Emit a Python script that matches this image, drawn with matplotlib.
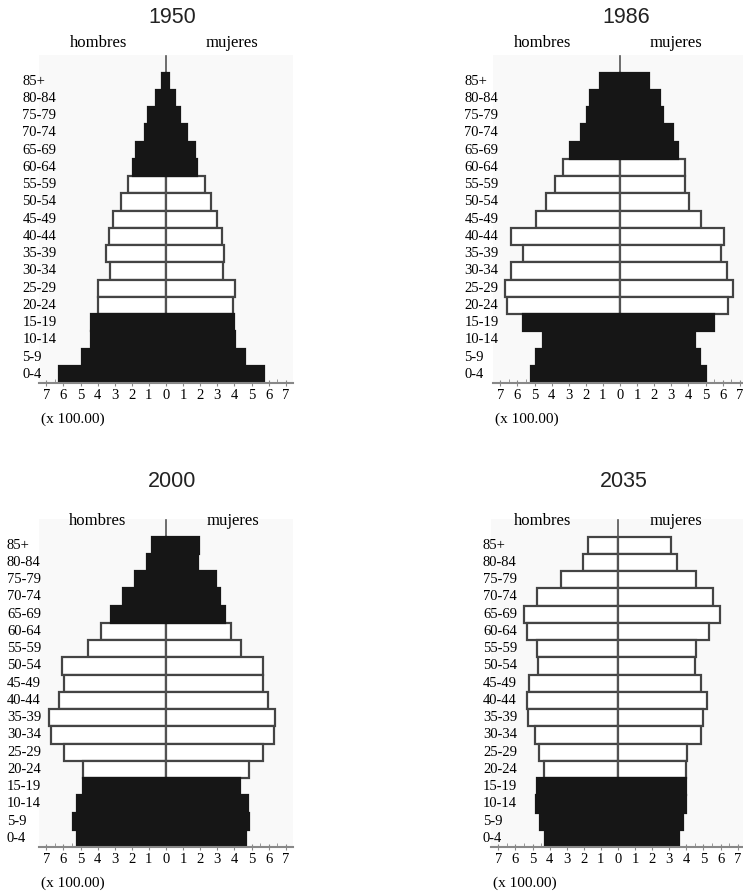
import numpy as np
import matplotlib
matplotlib.use("Agg")
import matplotlib.pyplot as plt

# age groups, listed from the top of the pyramid down
ages = ["85+", "80-84", "75-79", "70-74", "65-69", "60-64", "55-59", "50-54", "45-49",
        "40-44", "35-39", "30-34", "25-29", "20-24", "15-19", "10-14", "5-9", "0-4"]

years = ["1950", "1986", "2000", "2035"]

# population (x 100.00), same order as ages
men_1950 = [0.23, 0.6, 1.05, 1.2, 1.75, 1.95, 2.2, 2.65, 3.1, 3.35, 3.5, 3.3, 4.0, 4.0, 4.4, 4.4, 4.9, 6.25]
women_1950 = [0.2, 0.5, 0.8, 1.2, 1.7, 1.8, 2.3, 2.65, 3.0, 3.3, 3.4, 3.35, 4.05, 3.9, 3.95, 4.05, 4.6, 5.75]

men_1986 = [1.17, 1.76, 1.95, 2.3, 2.93, 3.32, 3.8, 4.3, 4.9, 6.35, 5.7, 6.35, 6.7, 6.58, 5.66, 4.53, 4.9, 5.18]
women_1986 = [1.72, 2.34, 2.54, 3.1, 3.38, 3.8, 3.8, 4.06, 4.73, 6.1, 5.9, 6.25, 6.6, 6.3, 5.47, 4.4, 4.7, 5.0]

men_2000 = [0.82, 1.1, 1.84, 2.54, 3.2, 3.8, 4.54, 6.1, 5.95, 6.24, 6.87, 6.75, 5.95, 4.83, 4.83, 5.22, 5.46, 5.19]
women_2000 = [1.92, 1.86, 2.9, 3.15, 3.44, 3.78, 4.4, 5.67, 5.67, 5.97, 6.38, 6.32, 5.67, 4.85, 4.3, 4.8, 4.85, 4.66]

men_2035 = [1.76, 2.06, 3.33, 4.76, 5.5, 5.35, 4.75, 4.69, 5.2, 5.33, 5.24, 4.84, 4.6, 4.3, 4.75, 4.78, 4.55, 4.25]
women_2035 = [3.1, 3.47, 4.57, 5.55, 5.98, 5.35, 4.57, 4.53, 4.86, 5.2, 5.0, 4.86, 4.02, 3.98, 3.98, 3.98, 3.78, 3.59]

# how many of the oldest groups are shaded black (the 4 youngest always are)
old_black = [6, 5, 5, 0]

men = [men_1950, men_1986, men_2000, men_2035]
women = [women_1950, women_1986, women_2000, women_2035]

SERIF = ["Liberation Serif", "DejaVu Serif"]
SANS = ["Liberation Sans", "DejaVu Sans"]

W, H = 743, 891
fig = plt.figure(figsize=(W / 100, H / 100), dpi=100)

unit = 17.1    # px per x unit
band = 17.25   # px per age group
xmin, xmax = -7.4, 7.4
ymax = 19

# (zero x px, baseline y px, age label x offset, hombres x, mujeres x)
panels = [(166, 383, -8.4, -3.95, 3.85),
          (620, 383, -9.1, -4.5, 3.3),
          (166, 847, -9.3, -4.0, 3.9),
          (618, 847, -7.9, -4.4, 3.4)]

for k, (x0, base, lab_x, hx, mx) in enumerate(panels):
    left = x0 + xmin * unit
    width = (xmax - xmin) * unit
    height = ymax * band
    ax = fig.add_axes([left / W, (H - base) / H, width / W, height / H])
    ax.set_facecolor("#f9f9f9")

    n = len(ages)
    ypos = np.arange(n)[::-1] + 0.5
    for i in range(n):
        black = i >= n - 4 or i < old_black[k]
        fc = "#161616" if black else "white"
        ec = "#161616" if black else "#444444"
        z = 2 if black else 1   # black bars hide the centre line, white ones show it
        ax.barh(ypos[i], -men[k][i], height=1.0, color=fc, edgecolor=ec, linewidth=1.6, zorder=z)
        ax.barh(ypos[i], women[k][i], height=1.0, color=fc, edgecolor=ec, linewidth=1.6, zorder=z)

    ax.plot([0, 0], [0, 18.95], color="#555555", lw=1.2, zorder=1.5)

    ax.set_xlim(xmin, xmax)
    ax.set_ylim(0, ymax)
    for s in ["left", "right", "top"]:
        ax.spines[s].set_visible(False)
    ax.spines["bottom"].set_color("#888888")
    ax.spines["bottom"].set_linewidth(1.5)
    ax.spines["bottom"].set_zorder(3)
    ax.set_yticks([])
    ticks = np.arange(-7, 8)
    ax.set_xticks(ticks)
    ax.set_xticklabels([str(abs(t)) for t in ticks], fontfamily=SERIF, fontsize=10.5)
    ax.set_xticks(np.arange(-6.5, 7, 1.0), minor=True)
    ax.tick_params(axis="x", which="major", direction="inout", length=5, color="#888888", pad=2)
    ax.tick_params(axis="x", which="minor", direction="in", length=3, color="#888888")

    for i in range(n):
        ax.text(lab_x, ypos[i], ages[i], ha="left", va="center", fontsize=10.5,
                family=SERIF, clip_on=False)

    top_gap = 19.7 if base < 500 else 18.9
    ax.text(hx, top_gap, "hombres", ha="center", va="center", fontsize=12, family=SERIF, clip_on=False)
    ax.text(mx, top_gap, "mujeres", ha="center", va="center", fontsize=12, family=SERIF, clip_on=False)
    ax.text(0.35, 21.2, years[k], ha="center", va="center", fontsize=15.5, family=SANS,
            color="#222222", clip_on=False)
    ax.text(-7.3, -2.1, "(x 100.00)", ha="left", va="center", fontsize=11, family=SERIF, clip_on=False)

fig.savefig("out.png", dpi=100, facecolor="white")
